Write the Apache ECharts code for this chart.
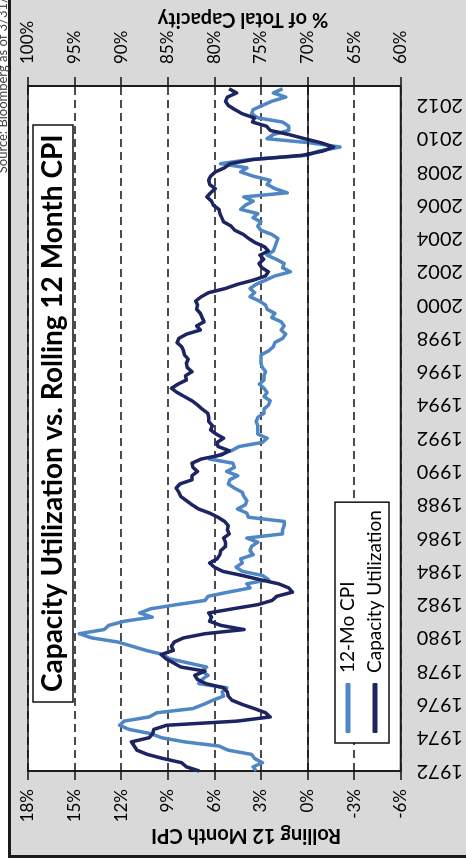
<!DOCTYPE html>
<html>
<head>
<meta charset="utf-8">
<script src="https://cdn.jsdelivr.net/npm/echarts@6/dist/echarts.min.js"></script>
<style>
  html, body { margin: 0; padding: 0; width: 466px; height: 866px; overflow: hidden; background: #fff; }
  /* the chart is laid out landscape and turned a quarter-turn counter-clockwise */
  #stage {
    position: absolute; left: 0; top: 0; width: 866px; height: 466px;
    transform-origin: 0 0; transform: translate(0, 866px) rotate(-90deg);
  }
  #frame {
    position: absolute; left: 8px; top: 8px; width: 900px; height: 500px;
    box-sizing: border-box; border: 3px solid #1a1a1a; background: #d9d9d9;
  }
  #chart { position: absolute; left: 0; top: 0; width: 866px; height: 466px; }
</style>
</head>
<body>
<div id="stage">
  <div id="frame"></div>
  <div id="chart"></div>
</div>
<script>
// Samples taken at the start of each quarter (Jan, Apr, Jul, Oct), Jan 1972 .. Jan 2013
const firstYear = 1972;

// Rolling 12-month CPI change, %
const cpi12 = [
  3.3, 3.5, 2.9, 3.4,     // 1972
  3.6, 5.1, 5.7, 7.9,     // 1973
  9.4, 10.1, 11.5, 12.1,  // 1974
  11.8, 10.2, 9.7, 7.4,   // 1975
  6.7, 6.1, 5.4, 5.5,     // 1976
  5.2, 7.0, 6.8, 6.4,     // 1977
  6.8, 6.5, 7.7, 8.9,     // 1978
  9.3, 10.4, 11.3, 12.2,  // 1979
  13.9, 14.7, 13.1, 12.8, // 1980
  11.8, 10.0, 10.8, 10.1, // 1981
  8.4, 6.6, 6.4, 5.1,     // 1982
  3.7, 3.9, 2.5, 2.9,     // 1983
  4.2, 4.6, 4.2, 4.3,     // 1984
  3.5, 3.7, 3.6, 3.2,     // 1985
  3.9, 1.6, 1.6, 1.5,     // 1986
  1.5, 3.8, 3.9, 4.5,     // 1987
  4.0, 3.9, 4.1, 4.2,     // 1988
  4.7, 5.1, 5.0, 4.5,     // 1989
  5.2, 4.7, 4.8, 6.3,     // 1990
  5.7, 4.9, 4.4, 2.9,     // 1991
  2.6, 3.2, 3.2, 3.2,     // 1992
  3.3, 3.2, 2.8, 2.8,     // 1993
  2.5, 2.4, 2.8, 2.6,     // 1994
  2.8, 3.1, 2.8, 2.8,     // 1995
  2.7, 2.9, 3.0, 3.0,     // 1996
  3.0, 2.5, 2.2, 2.1,     // 1997
  1.6, 1.4, 1.7, 1.5,     // 1998
  1.7, 2.3, 2.1, 2.6,     // 1999
  2.7, 3.1, 3.7, 3.4,     // 2000
  3.7, 3.3, 2.7, 2.1,     // 2001
  1.1, 1.6, 1.5, 2.0,     // 2002
  2.6, 2.2, 2.1, 2.0,     // 2003
  1.9, 2.3, 3.0, 3.2,     // 2004
  3.0, 3.5, 3.2, 4.3,     // 2005
  4.0, 3.5, 4.1, 1.3,     // 2006
  2.1, 2.6, 2.4, 3.5,     // 2007
  4.3, 3.9, 5.6, 3.7,     // 2008
  0.0, -0.7, -2.1, -0.2,  // 2009
  2.6, 2.2, 1.2, 1.2,     // 2010
  1.6, 3.2, 3.6, 3.5,     // 2011
  2.9, 2.3, 1.4, 2.2,     // 2012
  1.6                     // 2013
];

// Capacity utilization, % of total capacity
const capUtil = [
  81.6, 83.0, 83.5, 85.5, // 1972
  87.2, 88.3, 88.6, 88.9, // 1973
  87.0, 86.6, 86.5, 85.1, // 1974
  77.5, 74.0, 74.5, 75.7, // 1975
  77.0, 78.1, 78.5, 78.6, // 1976
  79.0, 80.9, 81.8, 82.1, // 1977
  81.0, 83.6, 84.4, 85.2, // 1978
  85.7, 84.4, 84.6, 84.3, // 1979
  83.3, 81.0, 76.8, 79.3, // 1980
  80.5, 80.3, 80.6, 78.0, // 1981
  75.3, 73.8, 73.3, 71.6, // 1982
  72.0, 73.1, 75.1, 77.0, // 1983
  79.1, 80.0, 80.5, 79.7, // 1984
  79.4, 79.3, 78.8, 78.8, // 1985
  79.0, 78.4, 78.6, 78.5, // 1986
  78.9, 79.6, 80.5, 81.7, // 1987
  82.4, 83.0, 83.6, 83.8, // 1988
  84.1, 83.7, 82.4, 82.4, // 1989
  81.8, 82.3, 82.4, 81.4, // 1990
  79.2, 78.4, 79.6, 79.7, // 1991
  79.0, 79.8, 80.4, 80.2, // 1992
  80.6, 80.6, 80.7, 81.3, // 1993
  81.8, 82.4, 83.2, 84.0, // 1994
  84.6, 83.9, 83.0, 83.1, // 1995
  82.4, 82.9, 83.0, 82.8, // 1996
  83.2, 83.3, 83.5, 84.0, // 1997
  83.8, 83.0, 81.5, 81.9, // 1998
  81.1, 81.3, 81.5, 81.9, // 1999
  81.8, 82.0, 81.4, 80.6, // 2000
  78.8, 77.5, 75.8, 74.5, // 2001
  74.2, 74.9, 75.2, 74.7, // 2002
  75.1, 74.2, 74.6, 75.6, // 2003
  76.3, 76.9, 77.8, 78.2, // 2004
  79.0, 79.2, 79.4, 79.5, // 2005
  80.1, 80.3, 80.8, 80.4, // 2006
  79.9, 80.5, 80.6, 80.4, // 2007
  79.9, 78.9, 78.3, 75.8, // 2008
  70.6, 68.4, 67.2, 68.5, // 2009
  70.3, 72.0, 74.0, 74.4, // 2010
  75.9, 75.7, 77.0, 77.8, // 2011
  78.5, 78.8, 78.6, 77.6, // 2012
  78.4                    // 2013
];

const lastMonth = 2013 + 2 / 12;   // data runs through March 2013

const seriesNames = ['12-Mo CPI', 'Capacity Utilization'];
const titleText = 'Capacity Utilization vs. Rolling 12 Month CPI';
const cpiAxisName = 'Rolling 12 Month CPI';
const capAxisName = '% of Total Capacity';
const sourceText = 'Source: Bloomberg as of 3/31/13';

const quarterTime = i => firstYear + i * 0.25;
const cpiData = cpi12.map((v, i) => [quarterTime(i), v]);
const capData = capUtil.map((v, i) => [quarterTime(i), v]);

const FONT = 'Lato, "Noto Sans", sans-serif';
const BLUE = '#4f86c6';
const NAVY = '#1c2561';

const chart = echarts.init(document.getElementById('chart'), null, { renderer: 'canvas' });

chart.setOption({
  backgroundColor: 'transparent',
  animation: false,
  title: {
    text: titleText,
    left: 164, top: 33,
    padding: [3, 10, 3, 10],
    backgroundColor: '#fff',
    borderColor: '#111', borderWidth: 1.5,
    textStyle: { fontFamily: FONT, fontSize: 28, lineHeight: 34, fontWeight: 'bold', color: '#000' }
  },
  legend: {
    data: seriesNames,
    orient: 'vertical',
    left: 123, top: 335,
    padding: [3, 8, 4, 10],
    itemGap: 7,
    itemWidth: 50, itemHeight: 5,
    icon: 'roundRect',
    backgroundColor: '#fff',
    borderColor: '#111', borderWidth: 1.5,
    textStyle: { fontFamily: FONT, fontSize: 19, color: '#000', lineHeight: 20, padding: [0, 0, 0, 5] }
  },
  grid: {
    left: 95, right: 86, top: 28, bottom: 54,
    show: true, backgroundColor: '#fff', borderColor: '#111', borderWidth: 1.5
  },
  xAxis: {
    type: 'value',
    min: firstYear, max: lastMonth, interval: 2,
    axisLine: { show: true, onZero: false, lineStyle: { color: '#222', width: 1.5 } },
    axisTick: { show: false },
    splitLine: { show: false },
    axisLabel: {
      rotate: 90, margin: 16, color: '#000', fontFamily: FONT, fontSize: 20,
      showMaxLabel: false,
      formatter: v => (Number.isInteger(v) ? String(v) : '')
    }
  },
  yAxis: [
    {
      type: 'value', position: 'left',
      min: -6, max: 18, interval: 3,
      axisLine: { show: true, lineStyle: { color: '#111', width: 1.5 } },
      axisTick: { show: true, inside: false, length: 9, lineStyle: { color: '#111', width: 1.5 } },
      axisLabel: { formatter: '{value}%', margin: 18, color: '#000', fontFamily: FONT, fontSize: 17 },
      splitLine: { show: true, lineStyle: { color: '#111', width: 1.5, type: [8, 5] } }
    },
    {
      type: 'value', position: 'right',
      min: 60, max: 100, interval: 5,
      axisLine: { show: true, lineStyle: { color: '#111', width: 1.5 } },
      axisTick: { show: true, inside: false, length: 9, lineStyle: { color: '#111', width: 1.5 } },
      axisLabel: { formatter: '{value}%', margin: 22, color: '#000', fontFamily: FONT, fontSize: 17 },
      splitLine: { show: false }
    }
  ],
  graphic: [
    {
      type: 'text', x: 31, y: 246, rotation: Math.PI / 2,
      style: { text: cpiAxisName, fill: '#000', font: 'bold 20px ' + FONT, align: 'center', verticalAlign: 'middle' }
    },
    {
      type: 'text', x: 847, y: 243, rotation: Math.PI / 2,
      style: { text: capAxisName, fill: '#000', font: 'bold 20px ' + FONT, align: 'center', verticalAlign: 'middle' }
    },
    {
      type: 'text', x: 884, y: 9,
      style: { text: sourceText, fill: '#444', font: '13px ' + FONT, align: 'right', verticalAlign: 'bottom' }
    }
  ],
  series: [
    {
      name: seriesNames[0], type: 'line', yAxisIndex: 0,
      data: cpiData, showSymbol: false, symbol: 'none',
      lineStyle: { color: BLUE, width: 3.5, join: 'round' },
      itemStyle: { color: BLUE },
      markLine: {
        silent: true, symbol: ['none', 'none'], label: { show: false },
        lineStyle: { color: '#111', type: 'solid', width: 1.5 },
        data: [{ yAxis: 0 }]
      }
    },
    {
      name: seriesNames[1], type: 'line', yAxisIndex: 1,
      data: capData, showSymbol: false, symbol: 'none',
      lineStyle: { color: NAVY, width: 3.5, join: 'round' },
      itemStyle: { color: NAVY }
    }
  ]
});
</script>
</body>
</html>
